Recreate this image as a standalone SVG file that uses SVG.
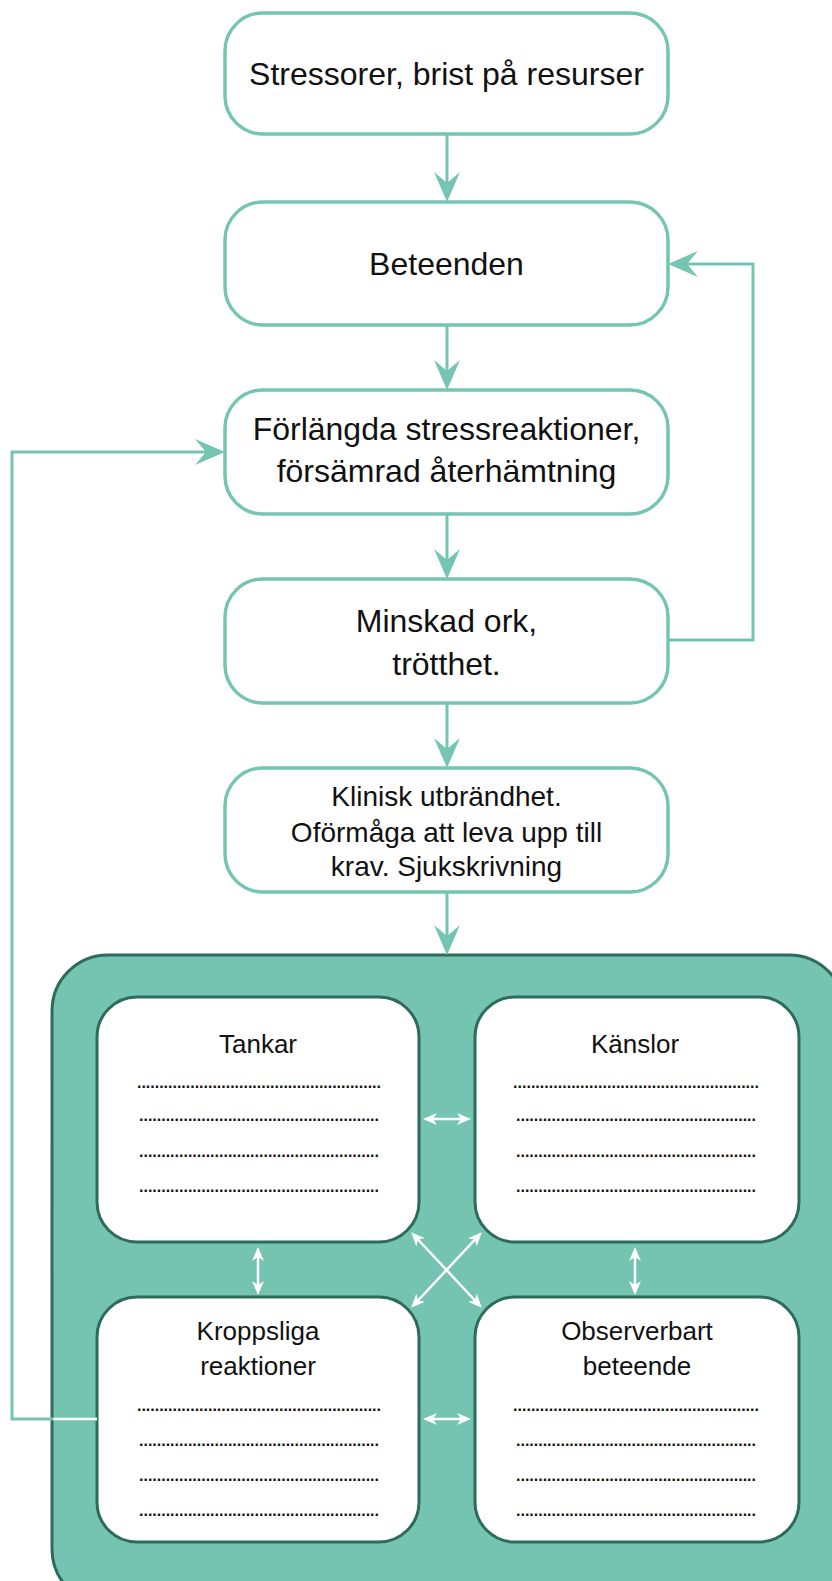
<svg xmlns="http://www.w3.org/2000/svg" width="832" height="1581" viewBox="0 0 832 1581">
<style>
.box{fill:#ffffff;stroke:#76c5b2;stroke-width:3.5}
.inner{fill:#ffffff;stroke:#2d6b5b;stroke-width:3}
.cont{fill:#75c3b1;stroke:#2d6b5b;stroke-width:3}
.t{font-family:"Liberation Sans",Arial,sans-serif;fill:#111111;text-anchor:middle}
.big{font-size:32px}
.mid{font-size:28px}
.lab{font-size:26px}
.dots{font-family:"Liberation Sans",Arial,sans-serif;font-size:16px;font-weight:bold;fill:#111111}
.conn{fill:none;stroke:#76c5b2;stroke-width:3}
.wconn{fill:none;stroke:#ffffff;stroke-width:2.5}
</style>
<defs>
<marker id="ah" markerUnits="userSpaceOnUse" viewBox="0 0 30 26" markerWidth="30" markerHeight="26" refX="11" refY="13" orient="auto">
<path d="M0,0 L30,13 L0,26 L11,13 Z" fill="#76c5b2"/>
</marker>
<marker id="wh" markerUnits="userSpaceOnUse" viewBox="0 0 14 12" markerWidth="14" markerHeight="12" refX="4" refY="6" orient="auto-start-reverse">
<path d="M0,0 L14,6 L0,12 L4,6 Z" fill="#ffffff"/>
</marker>
</defs>

<g id="container">
<rect class="cont" x="52" y="955" width="793" height="650" rx="56"/>
</g>

<g id="n1">
<rect class="box" x="225" y="13" width="443" height="121" rx="38"/>
<text class="t big" x="446.5" y="85">Stressorer, brist på resurser</text>
</g>
<g id="n2">
<rect class="box" x="225" y="202" width="443" height="123" rx="38"/>
<text class="t big" x="446.5" y="275">Beteenden</text>
</g>
<g id="n3">
<rect class="box" x="225" y="390" width="443" height="124" rx="38"/>
<text class="t big" x="446.5" y="440">Förlängda stressreaktioner,</text>
<text class="t big" x="446.5" y="482">försämrad återhämtning</text>
</g>
<g id="n4">
<rect class="box" x="225" y="579" width="443" height="124" rx="38"/>
<text class="t big" x="446.5" y="632">Minskad ork,</text>
<text class="t big" x="446.5" y="675">trötthet.</text>
</g>
<g id="n5">
<rect class="box" x="225" y="768" width="443" height="124" rx="38"/>
<text class="t mid" x="446.5" y="806">Klinisk utbrändhet.</text>
<text class="t mid" x="446.5" y="842">Oförmåga att leva upp till</text>
<text class="t mid" x="446.5" y="876">krav. Sjukskrivning</text>
</g>

<g id="tankar">
<rect class="inner" x="97" y="997" width="322" height="245" rx="40"/>
<text class="t lab" x="258" y="1053">Tankar</text>
<text class="dots" x="137" y="1088" textLength="244" lengthAdjust="spacing">.......................................................</text>
<text class="dots" x="139" y="1121" textLength="240" lengthAdjust="spacing">......................................................</text>
<text class="dots" x="139" y="1157" textLength="240" lengthAdjust="spacing">......................................................</text>
<text class="dots" x="139" y="1192" textLength="240" lengthAdjust="spacing">......................................................</text>
</g>
<g id="kanslor">
<rect class="inner" x="475" y="997" width="324" height="245" rx="40"/>
<text class="t lab" x="635" y="1053">Känslor</text>
<text class="dots" x="513" y="1088" textLength="246" lengthAdjust="spacing">.......................................................</text>
<text class="dots" x="516" y="1121" textLength="240" lengthAdjust="spacing">......................................................</text>
<text class="dots" x="516" y="1157" textLength="240" lengthAdjust="spacing">......................................................</text>
<text class="dots" x="516" y="1192" textLength="240" lengthAdjust="spacing">......................................................</text>
</g>
<g id="kroppsliga">
<rect class="inner" x="97" y="1297" width="322" height="245" rx="40"/>
<text class="t lab" x="258" y="1340">Kroppsliga</text>
<text class="t lab" x="258" y="1375">reaktioner</text>
<text class="dots" x="137" y="1411" textLength="244" lengthAdjust="spacing">.......................................................</text>
<text class="dots" x="139" y="1446" textLength="240" lengthAdjust="spacing">......................................................</text>
<text class="dots" x="139" y="1481" textLength="240" lengthAdjust="spacing">......................................................</text>
<text class="dots" x="139" y="1516" textLength="240" lengthAdjust="spacing">......................................................</text>
</g>
<g id="observerbart">
<rect class="inner" x="475" y="1297" width="324" height="245" rx="40"/>
<text class="t lab" x="637" y="1340">Observerbart</text>
<text class="t lab" x="637" y="1375">beteende</text>
<text class="dots" x="513" y="1411" textLength="246" lengthAdjust="spacing">.......................................................</text>
<text class="dots" x="516" y="1446" textLength="240" lengthAdjust="spacing">......................................................</text>
<text class="dots" x="516" y="1481" textLength="240" lengthAdjust="spacing">......................................................</text>
<text class="dots" x="516" y="1516" textLength="240" lengthAdjust="spacing">......................................................</text>
</g>

<g id="connectors">
<line class="conn" x1="447" y1="134" x2="447" y2="183" marker-end="url(#ah)"/>
<line class="conn" x1="447" y1="325" x2="447" y2="371" marker-end="url(#ah)"/>
<line class="conn" x1="447" y1="514" x2="447" y2="560" marker-end="url(#ah)"/>
<line class="conn" x1="447" y1="703" x2="447" y2="749" marker-end="url(#ah)"/>
<line class="conn" x1="447" y1="892" x2="447" y2="936" marker-end="url(#ah)"/>
<polyline class="conn" points="668,640 753,640 753,264 687,264" marker-end="url(#ah)"/>
<polyline class="conn" points="97,1419 12,1419 12,452 206,452" marker-end="url(#ah)"/>
<line class="wconn" x1="53.5" y1="1419" x2="97" y2="1419"/>
<line class="wconn" x1="433" y1="1119" x2="461" y2="1119" marker-start="url(#wh)" marker-end="url(#wh)"/>
<line class="wconn" x1="433" y1="1419" x2="461" y2="1419" marker-start="url(#wh)" marker-end="url(#wh)"/>
<line class="wconn" x1="258" y1="1257" x2="258" y2="1285" marker-start="url(#wh)" marker-end="url(#wh)"/>
<line class="wconn" x1="635" y1="1257" x2="635" y2="1285" marker-start="url(#wh)" marker-end="url(#wh)"/>
<line class="wconn" x1="418" y1="1239.5" x2="475" y2="1300.5" marker-start="url(#wh)" marker-end="url(#wh)"/>
<line class="wconn" x1="475" y1="1239.5" x2="418" y2="1300.5" marker-start="url(#wh)" marker-end="url(#wh)"/>
</g>
</svg>
